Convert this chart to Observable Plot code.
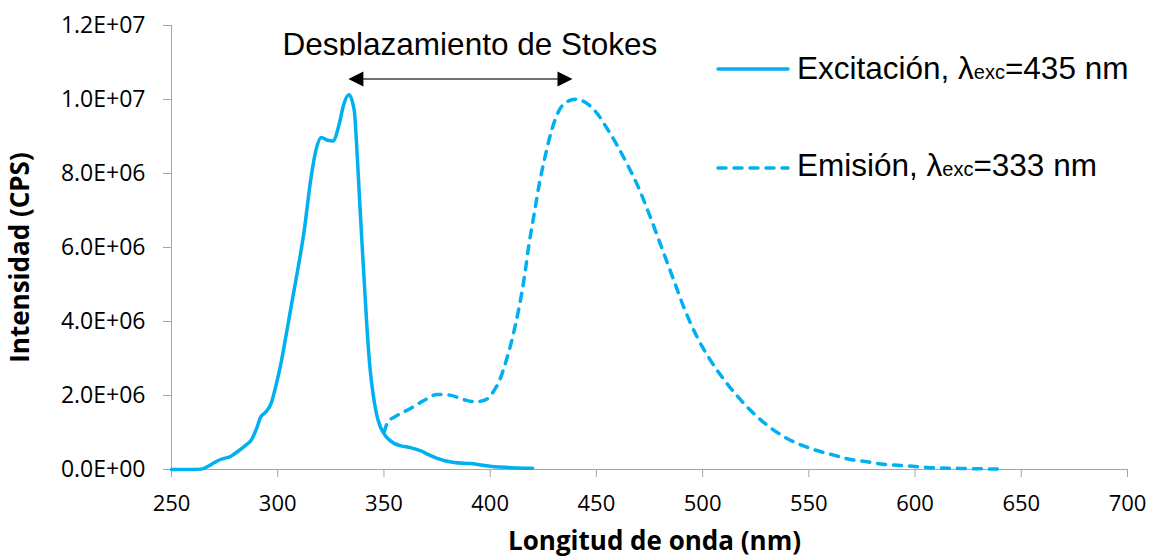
<!DOCTYPE html>
<html>
<head>
<meta charset="utf-8">
<script src="https://cdn.jsdelivr.net/npm/d3@7"></script>
<script src="https://cdn.jsdelivr.net/npm/@observablehq/plot@0.6"></script>
<style>
  body { margin: 0; background: #fff; }
  #chart { width: 1149px; height: 557px; }
  #chart svg { overflow: visible; }
</style>
</head>
<body>
<div id="chart"></div>
<script>
// Excitation spectrum (emission monitored at 435 nm)
const excitationNm = [250, 255, 260, 264, 267, 270, 273, 278, 281, 285, 287.5, 290, 292, 294.5, 297, 299,
  301.5, 304, 306, 308.5, 312.5, 315.5, 318, 320.5, 323.5, 326, 329, 331, 333.5, 336, 337.5, 339, 340.5,
  342, 343.5, 345, 346.5, 348, 350, 352.5, 355, 358, 362.5, 367.5, 371, 375, 383, 391, 400, 410, 420];
const excitationCps = [0, 0, 0, 0.01e6, 0.08e6, 0.18e6, 0.27e6, 0.36e6, 0.48e6, 0.66e6, 0.79e6, 1.1e6, 1.42e6,
  1.56e6, 1.8e6, 2.23e6, 2.86e6, 3.65e6, 4.3e6, 5.1e6, 6.47e6, 7.82e6, 8.63e6, 8.97e6, 8.9e6, 8.88e6,
  9.35e6, 9.85e6, 10.13e6, 9.71e6, 8.4e6, 6.8e6, 5.3e6, 3.85e6, 2.7e6, 2.0e6, 1.5e6, 1.2e6, 0.97e6, 0.8e6,
  0.7e6, 0.64e6, 0.59e6, 0.5e6, 0.4e6, 0.3e6, 0.19e6, 0.16e6, 0.09e6, 0.05e6, 0.035e6];

// Emission spectrum (excited at 333 nm)
const emissionNm = [350, 352, 355, 362.5, 369, 375, 381, 387.5, 393, 396, 400, 402, 404, 406.4, 410.4, 413.5,
  416, 418.2, 420.6, 423, 426, 429.2, 433, 436, 440, 445.7, 450.4, 455, 459.8, 464.5, 469.2, 474, 478.6,
  483.3, 486.4, 491.1, 497.4, 503.7, 511.5, 521, 530.3, 539.7, 550.7, 561.7, 568, 577.4, 585, 593, 600,
  607, 621, 640];
const emissionCps = [1.0e6, 1.3e6, 1.42e6, 1.65e6, 1.87e6, 2.03e6, 2.01e6, 1.89e6, 1.83e6, 1.85e6, 1.98e6,
  2.15e6, 2.35e6, 2.73e6, 3.54e6, 4.35e6, 5.16e6, 6.06e6, 6.87e6, 7.68e6, 8.49e6, 9.22e6, 9.76e6, 9.93e6,
  10.01e6, 9.89e6, 9.62e6, 9.22e6, 8.76e6, 8.25e6, 7.7e6, 7.03e6, 6.33e6, 5.6e6, 5.12e6, 4.39e6, 3.58e6,
  2.95e6, 2.32e6, 1.69e6, 1.2e6, 0.84e6, 0.57e6, 0.39e6, 0.29e6, 0.21e6, 0.14e6, 0.11e6, 0.08e6, 0.05e6,
  0.03e6, 0.01e6];

// Axis ticks
const xTicks = [250, 300, 350, 400, 450, 500, 550, 600, 650, 700];
const yTicks = [0, 2e6, 4e6, 6e6, 8e6, 10e6, 12e6];

// Stokes shift arrow: excitation peak to emission peak
const stokesFrom = 333.5;
const stokesTo = 439;
const stokesLevel = 1.054e7;
const stokesLabel = "Desplazamiento de Stokes";
const stokesLabelNm = 390.7;
const stokesLabelLevel = 1.12e7;

// Legend entries
const legendItems = [
  {name: "Excitación, λ", sub: "exc", tail: "=435 nm", dash: null},
  {name: "Emisión, λ", sub: "exc", tail: "=333 nm", dash: "8,8"}
];

const blue = "#00B0F0";
const gray = "#A6A6A6";

const toRows = (xs, ys) => xs.map((nm, i) => ({nm, cps: ys[i]}));
const excitation = toRows(excitationNm, excitationCps);
const emission = toRows(emissionNm, emissionCps);

// Excel-style scientific labels: 1.2E+07
const sci = (d) => {
  if (d === 0) return "0.0E+00";
  const e = Math.floor(Math.log10(d) + 1e-9);
  return (d / Math.pow(10, e)).toFixed(1) + "E+" + String(e).padStart(2, "0");
};

const plot = Plot.plot({
  width: 1149,
  height: 557,
  marginLeft: 171,
  marginRight: 22,
  marginTop: 25,
  marginBottom: 88,
  style: {fontFamily: "'Open Sans', sans-serif", fontSize: "22px", color: "#000", background: "#fff"},
  x: {domain: [250, 700]},
  y: {domain: [0, 1.2e7]},
  marks: [
    Plot.ruleX([250], {stroke: gray, strokeWidth: 1}),
    Plot.ruleY([0], {stroke: gray, strokeWidth: 1}),
    Plot.axisY({ticks: yTicks, tickFormat: sci, tickSize: 8, tickPadding: 18, stroke: gray, strokeOpacity: 1, fontSize: 23, label: null}),
    Plot.axisX({ticks: xTicks, tickFormat: (d) => String(d), tickSize: 8, tickPadding: 18, stroke: gray, strokeOpacity: 1, fontSize: 22, label: null}),
    Plot.text(["Intensidad (CPS)"], {frameAnchor: "left", textAnchor: "middle", lineAnchor: "middle", dx: -151, dy: 10, rotate: -90, fontWeight: "bold", fontSize: 26}),
    Plot.text(["Longitud de onda (nm)"], {frameAnchor: "bottom", textAnchor: "middle", lineAnchor: "middle", dx: 5, dy: 72, fontWeight: "bold", fontSize: 26}),
    Plot.line(emission, {x: "nm", y: "cps", stroke: blue, strokeWidth: 3.5, strokeDasharray: "8,8", curve: "monotone-x"}),
    Plot.line(excitation, {x: "nm", y: "cps", stroke: blue, strokeWidth: 3.5, curve: "monotone-x"})
  ]
});

document.getElementById("chart").appendChild(plot);

const svg = d3.select(plot);
const sx = plot.scale("x").apply;
const sy = plot.scale("y").apply;

// Double-headed Stokes shift arrow
const ay = sy(stokesLevel), ax1 = sx(stokesFrom), ax2 = sx(stokesTo);
const head = 15, half = 7.5;
svg.append("line")
  .attr("x1", ax1 + head - 1).attr("x2", ax2 - head + 1)
  .attr("y1", ay).attr("y2", ay)
  .attr("stroke", "#404040").attr("stroke-width", 1.6);
svg.append("path").attr("d", `M${ax1},${ay}l${head},${-half}v${2 * half}z`).attr("fill", "#000");
svg.append("path").attr("d", `M${ax2},${ay}l${-head},${-half}v${2 * half}z`).attr("fill", "#000");

// Label of the shift, cut just below its baseline
const labelBase = sy(stokesLabelLevel);
svg.append("clipPath").attr("id", "stokes-clip")
  .append("rect").attr("x", 0).attr("y", 0).attr("width", 1149).attr("height", labelBase + 1);
svg.append("text")
  .attr("clip-path", "url(#stokes-clip)")
  .attr("x", sx(stokesLabelNm)).attr("y", labelBase)
  .attr("text-anchor", "middle")
  .attr("font-family", "'Liberation Sans', Arial, sans-serif")
  .attr("font-size", 31.5)
  .attr("fill", "#000")
  .text(stokesLabel);

// Legend, top right inside the frame
const legendX = 718, legendLineLen = 70, legendTextX = 797;
const legendRows = [{line: 69, base: 78.5}, {line: 168, base: 175.5}];
const lg = svg.append("g")
  .attr("font-family", "'Liberation Sans', Arial, sans-serif")
  .attr("text-anchor", "start")
  .attr("fill", "#000");
legendItems.forEach((item, i) => {
  const r = legendRows[i];
  lg.append("line")
    .attr("x1", legendX).attr("x2", legendX + legendLineLen)
    .attr("y1", r.line).attr("y2", r.line)
    .attr("stroke", blue).attr("stroke-width", 3.5).attr("stroke-linecap", "round")
    .attr("stroke-dasharray", item.dash);
  const t = lg.append("text").attr("x", legendTextX).attr("y", r.base).attr("font-size", 31.5);
  t.append("tspan").text(item.name);
  t.append("tspan").attr("font-size", 20).text(item.sub);
  t.append("tspan").text(item.tail);
});
</script>
</body>
</html>
